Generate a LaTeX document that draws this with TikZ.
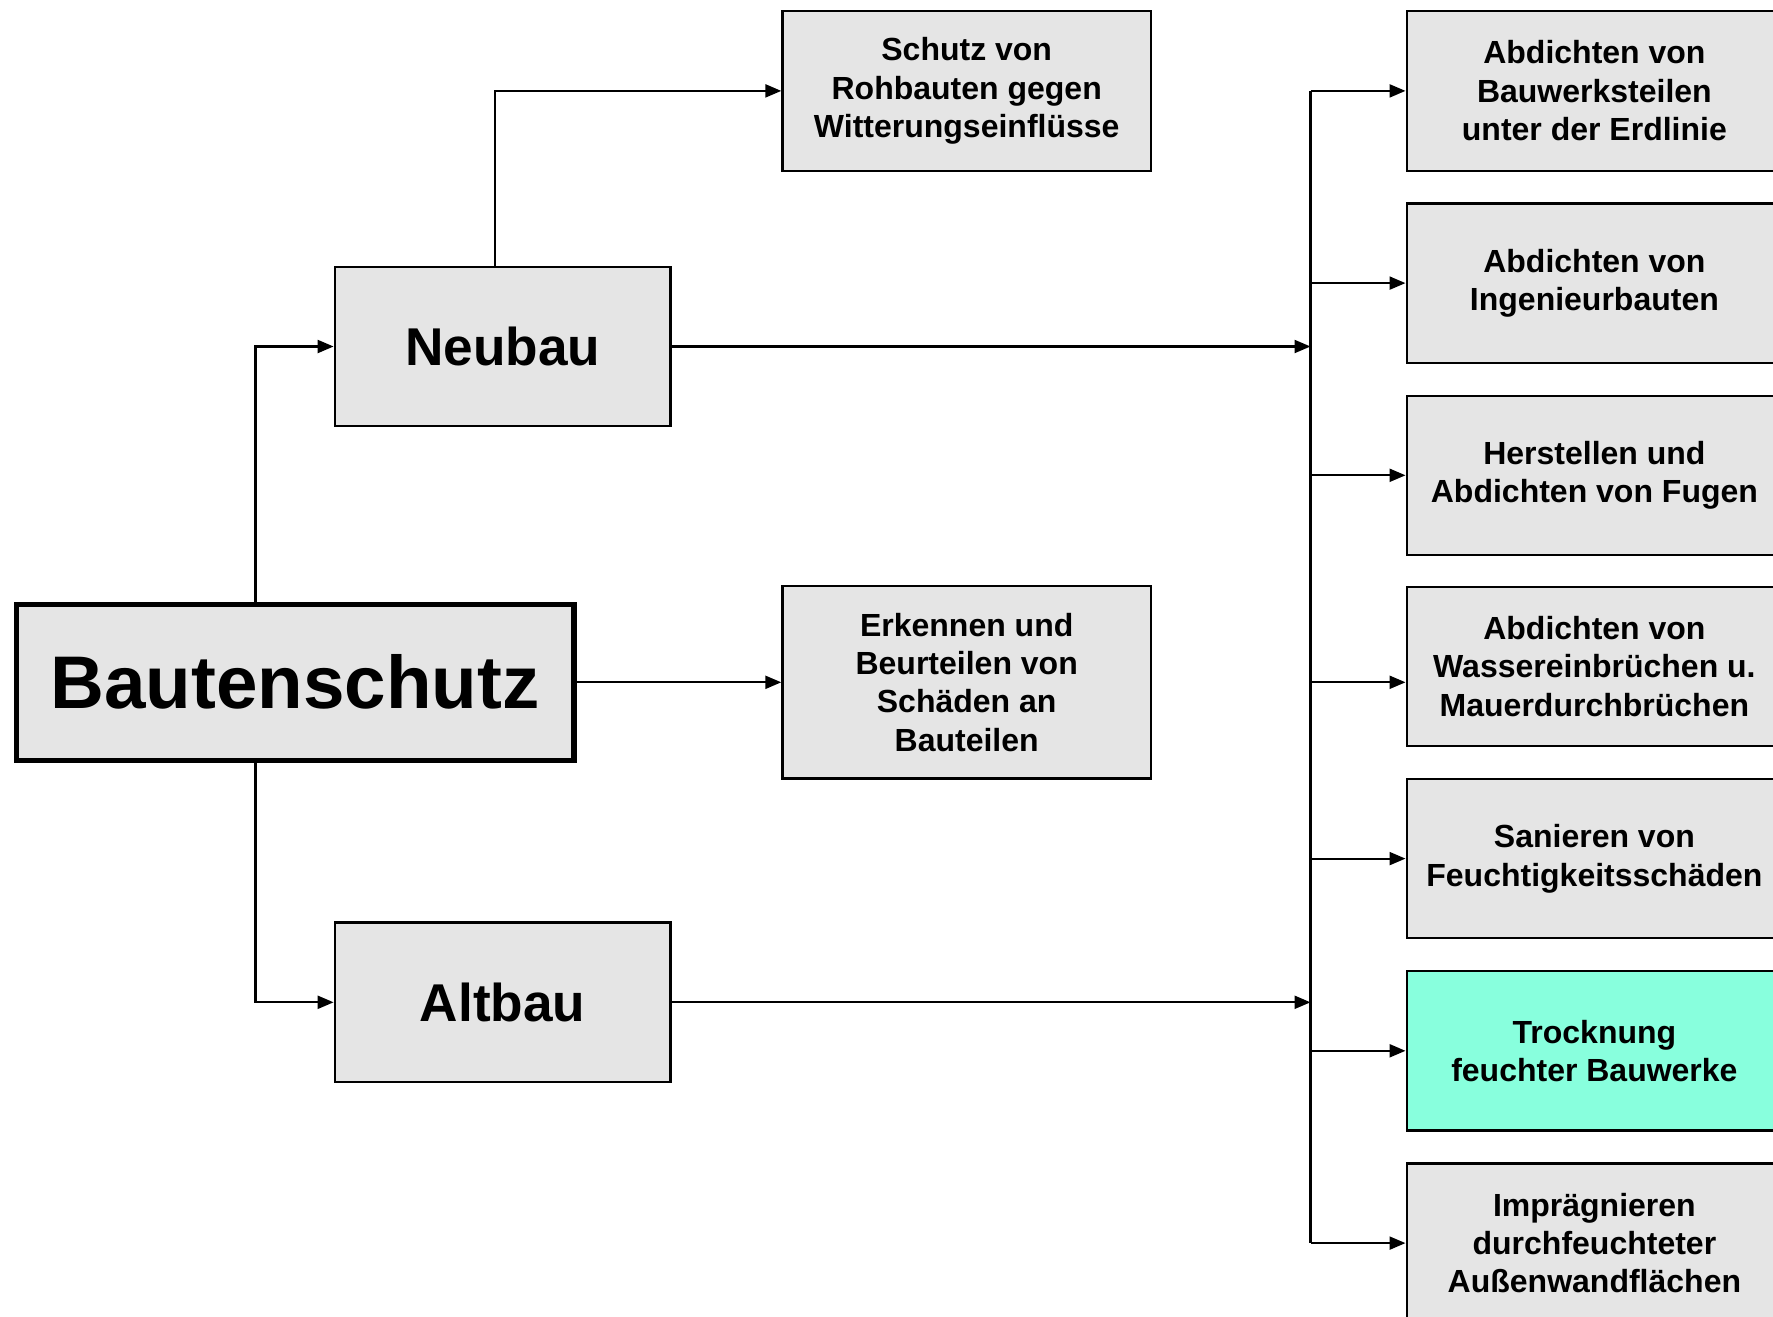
\documentclass[tikz,border=0pt]{standalone}
\usepackage{fontspec}
\setmainfont{Liberation Sans}
\usetikzlibrary{arrows.meta}
\definecolor{boxgray}{RGB}{229,229,229}
\definecolor{mintfill}{RGB}{136,255,221}
\begin{document}
\begin{tikzpicture}[x=0.5pt,y=-0.5pt,
  box/.style={draw, line width=1.1pt, fill=boxgray, align=center, inner sep=0pt,
    font=\bfseries\fontsize{16}{19.2}\selectfont},
  smallbox/.style={box, minimum width=184.3pt, minimum height=79.7pt},
  rightbox/.style={box, minimum width=187.8pt, minimum height=79.7pt},
  midbox/.style={box, minimum width=167.9pt, minimum height=79.75pt,
    font=\bfseries\fontsize{26.6}{30}\selectfont},
  conn/.style={line width=1.1pt},
  arr/.style={conn, -{Triangle[length=8pt,width=6.5pt]}}]
\useasboundingbox (0,0) rectangle (1773,1317);
\clip (0,0) rectangle (1773,1317);
\fill[white] (0,0) rectangle (1773,1317);

% main nodes
\node[box, minimum width=278.7pt, minimum height=78pt, line width=2.8pt,
  font=\bfseries\fontsize{37.3}{44}\selectfont] (bs) at (295.1,682.3) {Bautenschutz};
\node[midbox] (neu) at (502.6,346.5) {Neubau};
\node[midbox] (alt) at (502.6,1002.3) {Altbau};
\node[smallbox] (schutz) at (966.7,90.9) {Schutz von\\Rohbauten gegen\\Witterungseinflüsse};
\node[box, minimum width=184.3pt, minimum height=96.1pt] (erk) at (966.7,682.3)
  {Erkennen und\\Beurteilen von\\Schäden an\\Bauteilen};

% right column
\node[rightbox] (r1) at (1594.4,90.9) {Abdichten von\\Bauwerksteilen\\unter der Erdlinie};
\node[rightbox] (r2) at (1594.4,283.1) {Abdichten von\\Ingenieurbauten};
\node[rightbox] (r3) at (1594.4,475.3) {Herstellen und\\Abdichten von Fugen};
\node[rightbox] (r4) at (1594.4,666.4) {Abdichten von\\Wassereinbrüchen u.\\Mauerdurchbrüchen};
\node[rightbox] (r5) at (1594.4,858.6) {Sanieren von\\Feuchtigkeitsschäden};
\node[rightbox, fill=mintfill] (r6) at (1594.4,1050.8) {Trocknung\\feuchter Bauwerke};
\node[rightbox] (r7) at (1594.4,1243.1) {Imprägnieren\\durchfeuchteter\\Außenwandflächen};

% junction coordinates
\coordinate (j1) at (255.5,346.5);
\coordinate (j2) at (255.5,1002.3);
\coordinate (j3) at (495.2,90.9);
\coordinate (busT) at (1310.5,90.9);
\coordinate (busB) at (1310.5,1243.1);

% connectors
\draw[arr] (bs.north -| j1) -- (j1) -- (neu.west);
\draw[arr] (bs.south -| j2) -- (j2) -- (alt.west);
\draw[arr] (bs.east) -- (erk.west);
\draw[arr] (neu.north -| j3) -- (j3) -- (schutz.west);
\draw[conn] (busT) -- (busB);
\draw[arr] (neu.east) -- (neu.east -| busT);
\draw[arr] (alt.east) -- (alt.east -| busT);
\foreach \i in {1,2,3,5,6,7}{
  \draw[arr] (r\i.west -| busT) -- (r\i.west);
}
\draw[arr] (bs.east -| busT) -- (bs.east -| r4.west);
\end{tikzpicture}
\end{document}
